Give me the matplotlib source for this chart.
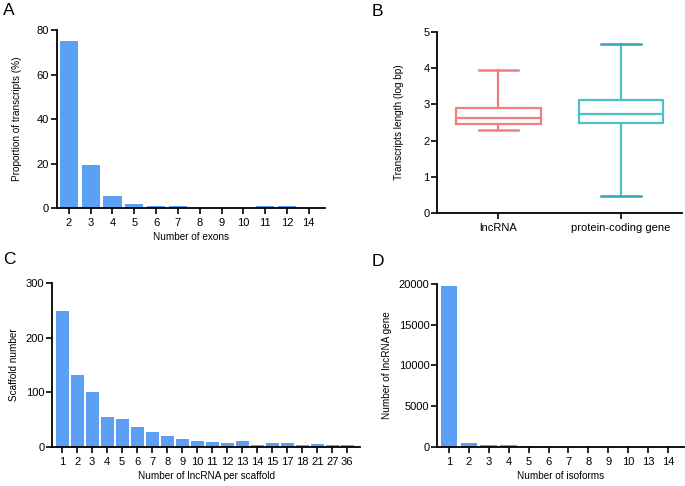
import matplotlib.pyplot as plt
import numpy as np

plt.rcParams['font.family'] = ['Liberation Sans', 'DejaVu Sans']

# Panel A: exon number distribution
exon_labels = ['2', '3', '4', '5', '6', '7', '8', '9', '10', '11', '12', '14']
exon_pct = [75.2, 19.4, 5.3, 2.0, 1.1, 0.9, 0.2, 0.1, 0.1, 0.8, 0.8, 0.2]

# Panel B: transcript length box stats (log bp)
box_names = ['lncRNA', 'protein-coding gene']
box_low = [2.30, 0.48]
box_q1 = [2.45, 2.48]
box_med = [2.63, 2.73]
box_q3 = [2.90, 3.12]
box_high = [3.96, 4.67]
box_colors = ['#f27e7e', '#4dbfc6']
cap_colors = ['#f27e7e', '#2fa6b5']

# Panel C: lncRNA per scaffold
scaf_labels = ['1', '2', '3', '4', '5', '6', '7', '8', '9', '10', '11', '12', '13',
               '14', '15', '17', '18', '21', '27', '36']
scaf_counts = [248, 131, 101, 55, 51, 37, 28, 20, 14, 12, 10, 7, 11,
               4, 7, 7, 4, 6, 4, 4]

# Panel D: isoforms per lncRNA gene
iso_labels = ['1', '2', '3', '4', '5', '6', '7', '8', '9', '10', '13', '14']
iso_counts = [19700, 550, 300, 200, 180, 40, 25, 15, 10, 8, 4, 3]

bar_color = '#5ca0f6'
lab_fs = 7.2

fig = plt.figure(figsize=(6.85, 4.86), dpi=100)

def style(ax):
    for s in ['top', 'right']:
        ax.spines[s].set_visible(False)
    for s in ['left', 'bottom']:
        ax.spines[s].set_linewidth(1.3)
    ax.tick_params(width=1.2, length=4, labelsize=8)
    ax.tick_params(axis='y', pad=1.5)
    ax.tick_params(axis='x', pad=3)

# A
axA = fig.add_axes([0.083, 0.572, 0.391, 0.366])
x = np.arange(len(exon_labels))
axA.bar(x, exon_pct, width=0.83, color=bar_color)
axA.set_xticks(x, exon_labels)
axA.set_xlim(-0.55, len(x) - 0.27)
axA.set_ylim(0, 80)
axA.set_yticks([0, 20, 40, 60, 80])
axA.set_xlabel('Number of exons', fontsize=lab_fs, labelpad=3)
axA.set_ylabel('Proportion of transcripts (%)', fontsize=lab_fs, labelpad=11)
style(axA)

# B
axB = fig.add_axes([0.638, 0.562, 0.358, 0.372])
stats = []
for i in range(2):
    stats.append(dict(whislo=box_low[i], q1=box_q1[i], med=box_med[i],
                      q3=box_q3[i], whishi=box_high[i], label=box_names[i]))
bp = axB.bxp(stats, positions=[1, 2], widths=0.69, showfliers=False,
             patch_artist=False, capwidths=0.32)
for i, c in enumerate(box_colors):
    bp['boxes'][i].set(color=c, linewidth=1.6)
    bp['medians'][i].set(color=c, linewidth=1.6)
    for j in (2 * i, 2 * i + 1):
        bp['whiskers'][j].set(color=c, linewidth=1.6)
        bp['caps'][j].set(color=cap_colors[i], linewidth=1.8)
axB.set_xlim(0.5, 2.5)
axB.set_ylim(0, 5)
axB.set_yticks([0, 1, 2, 3, 4, 5])
axB.set_ylabel('Transcripts length (log bp)', fontsize=lab_fs, labelpad=14)
style(axB)

# C
axC = fig.add_axes([0.076, 0.080, 0.450, 0.338])
x = np.arange(len(scaf_labels))
axC.bar(x, scaf_counts, width=0.87, color=bar_color)
axC.set_xticks(x, scaf_labels)
axC.set_xlim(-0.67, len(x) - 0.13)
axC.set_ylim(0, 300)
axC.set_yticks([0, 100, 200, 300])
axC.set_xlabel('Number of lncRNA per scaffold', fontsize=lab_fs, labelpad=3)
axC.set_ylabel('Scaffold number', fontsize=lab_fs, labelpad=5)
style(axC)

# D
axD = fig.add_axes([0.638, 0.080, 0.362, 0.336])
x = np.arange(len(iso_labels))
axD.bar(x, iso_counts, width=0.84, color=bar_color)
axD.set_xticks(x, iso_labels)
axD.set_xlim(-0.6, len(x) - 0.15)
axD.set_ylim(0, 20000)
axD.set_yticks([0, 5000, 10000, 15000, 20000])
axD.set_xlabel('Number of isoforms', fontsize=lab_fs, labelpad=3)
axD.set_ylabel('Number of lncRNA gene', fontsize=lab_fs, labelpad=5)
style(axD)

# panel letters
for lab, px, py in [('A', 3, 3), ('B', 372, 4), ('C', 3, 252), ('D', 372, 254)]:
    fig.text(px / 685, 1 - py / 486, lab, fontsize=12.5, ha='left', va='top')

fig.savefig('out.png', dpi=100)
